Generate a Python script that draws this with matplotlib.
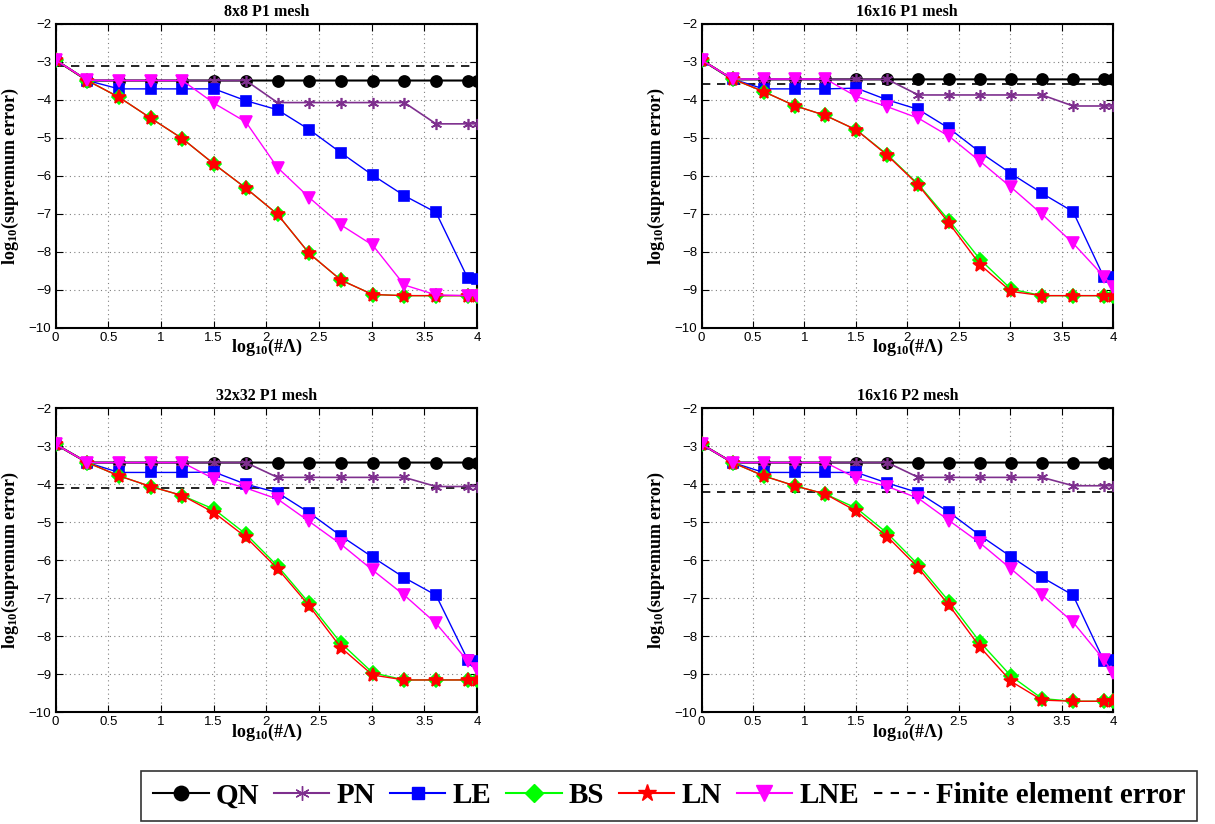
import matplotlib
matplotlib.use('Agg')
import matplotlib.pyplot as plt
from matplotlib.lines import Line2D

plt.rcParams['mathtext.fontset'] = 'custom'
plt.rcParams['mathtext.rm'] = 'Liberation Serif:bold'
plt.rcParams['mathtext.it'] = 'Liberation Serif:bold'
plt.rcParams['mathtext.bf'] = 'Liberation Serif:bold'

# log10(#Lambda)
x = [0, 0.301, 0.602, 0.903, 1.204, 1.505, 1.806, 2.107, 2.408, 2.709, 3.010, 3.311, 3.612, 3.913, 4.0]

titles = ['8x8 P1 mesh', '16x16 P1 mesh', '32x32 P1 mesh', '16x16 P2 mesh']

# 8x8 P1
qn_1 = [-2.95] + [-3.49] * 14
pn_1 = [-2.95, -3.49, -3.49, -3.49, -3.49, -3.49, -3.49, -4.07, -4.07, -4.07, -4.07, -4.07, -4.63, -4.63, -4.63]
le_1 = [-2.95, -3.49, -3.71, -3.71, -3.71, -3.71, -4.02, -4.26, -4.78, -5.39, -5.98, -6.52, -6.96, -8.69, -8.72]
bs_1 = [-2.95, -3.49, -3.93, -4.48, -5.02, -5.69, -6.32, -7.01, -8.04, -8.74, -9.12, -9.15, -9.15, -9.15, -9.15]
ln_1 = [-2.95, -3.49, -3.93, -4.48, -5.02, -5.69, -6.32, -7.01, -8.04, -8.74, -9.12, -9.15, -9.15, -9.15, -9.15]
lne_1 = [-2.95, -3.48, -3.49, -3.49, -3.49, -4.09, -4.58, -5.78, -6.57, -7.29, -7.82, -8.87, -9.13, -9.15, -9.15]
fe_1 = -3.10

# 16x16 P1
qn_2 = [-2.95] + [-3.46] * 14
pn_2 = [-2.95, -3.46, -3.46, -3.46, -3.46, -3.46, -3.46, -3.87, -3.87, -3.87, -3.87, -3.87, -4.16, -4.16, -4.16]
le_2 = [-2.95, -3.45, -3.71, -3.71, -3.71, -3.69, -4.00, -4.25, -4.75, -5.38, -5.94, -6.46, -6.94, -8.67, -8.67]
bs_2 = [-2.95, -3.45, -3.78, -4.15, -4.41, -4.79, -5.44, -6.22, -7.18, -8.20, -8.98, -9.15, -9.15, -9.15, -9.15]
ln_2 = [-2.95, -3.45, -3.78, -4.15, -4.41, -4.79, -5.46, -6.24, -7.25, -8.34, -9.04, -9.15, -9.15, -9.15, -9.15]
lne_2 = [-2.95, -3.45, -3.45, -3.45, -3.45, -3.91, -4.18, -4.48, -4.96, -5.62, -6.30, -7.01, -7.77, -8.65, -8.91]
fe_2 = -3.59

# 32x32 P1
qn_3 = [-2.95] + [-3.43] * 14
pn_3 = [-2.95, -3.43, -3.43, -3.43, -3.43, -3.43, -3.43, -3.82, -3.82, -3.82, -3.82, -3.82, -4.06, -4.06, -4.06]
le_3 = [-2.95, -3.43, -3.69, -3.69, -3.69, -3.68, -4.00, -4.22, -4.75, -5.36, -5.92, -6.46, -6.92, -8.62, -8.64]
bs_3 = [-2.95, -3.43, -3.78, -4.06, -4.30, -4.66, -5.31, -6.15, -7.13, -8.18, -8.96, -9.15, -9.15, -9.15, -9.15]
ln_3 = [-2.95, -3.43, -3.78, -4.06, -4.30, -4.75, -5.39, -6.22, -7.20, -8.30, -9.02, -9.15, -9.15, -9.15, -9.15]
lne_3 = [-2.95, -3.43, -3.43, -3.43, -3.43, -3.86, -4.10, -4.39, -4.98, -5.58, -6.26, -6.92, -7.66, -8.65, -8.87]
fe_3 = -4.10

# 16x16 P2
qn_4 = [-2.95] + [-3.43] * 14
pn_4 = [-2.95, -3.43, -3.43, -3.43, -3.43, -3.43, -3.43, -3.82, -3.82, -3.82, -3.82, -3.82, -4.04, -4.04, -4.04]
le_4 = [-2.95, -3.43, -3.69, -3.69, -3.69, -3.69, -3.97, -4.22, -4.74, -5.35, -5.91, -6.45, -6.92, -8.65, -8.63]
bs_4 = [-2.95, -3.43, -3.78, -4.04, -4.26, -4.63, -5.29, -6.12, -7.09, -8.16, -9.05, -9.64, -9.71, -9.71, -9.71]
ln_4 = [-2.95, -3.43, -3.78, -4.04, -4.26, -4.71, -5.38, -6.20, -7.19, -8.29, -9.19, -9.68, -9.71, -9.71, -9.71]
lne_4 = [-2.95, -3.43, -3.43, -3.43, -3.43, -3.84, -4.06, -4.37, -4.96, -5.55, -6.23, -6.92, -7.63, -8.62, -8.96]
fe_4 = -4.21

panels = [
    (qn_1, pn_1, le_1, bs_1, ln_1, lne_1, fe_1),
    (qn_2, pn_2, le_2, bs_2, ln_2, lne_2, fe_2),
    (qn_3, pn_3, le_3, bs_3, ln_3, lne_3, fe_3),
    (qn_4, pn_4, le_4, bs_4, ln_4, lne_4, fe_4),
]

purple = '#7E2F8E'
styles = [  # label, color, marker, markersize, linewidth
    ('QN', 'black', 'o', 8, 1.5),
    ('PN', purple, (6, 2, 0), 8, 1.2),
    ('LE', 'blue', 's', 7, 1.0),
    ('BS', '#00FF00', 'D', 7, 1.0),
    ('LN', 'red', '*', 10, 1.0),
    ('LNE', 'magenta', 'v', 9, 1.0),
]

# axes positions (left, bottom, width, height)
rects = [
    (0.0458, 0.602, 0.3467, 0.369),
    (0.5775, 0.602, 0.3385, 0.369),
    (0.0458, 0.1356, 0.3467, 0.369),
    (0.5775, 0.1356, 0.3385, 0.369),
]

fig = plt.figure(figsize=(12.15, 8.24), dpi=100)

for k in range(4):
    ax = fig.add_axes(rects[k])
    data = panels[k]
    for j, (lab, col, mk, ms, lw) in enumerate(styles):
        ax.plot(x, data[j], color=col, marker=mk, markersize=ms, linewidth=lw,
                markeredgecolor=col, markerfacecolor=col, markeredgewidth=1.2, zorder=3 + j)
    ax.axhline(data[6], color='black', linestyle=(0, (5, 4)), linewidth=1.2, zorder=2)
    ax.set_xlim(0, 4)
    ax.set_ylim(-10, -2)
    ax.set_xticks([0, 0.5, 1, 1.5, 2, 2.5, 3, 3.5, 4])
    ax.set_xticklabels(['0', '0.5', '1', '1.5', '2', '2.5', '3', '3.5', '4'])
    ax.set_yticks(range(-10, -1))
    ax.grid(True, color='#808080', linestyle=(0, (1, 3)), linewidth=0.8)
    ax.tick_params(direction='in', top=True, right=True, length=5, width=0.8,
                   labelsize=9.5, pad=3)
    for lbl in ax.get_xticklabels() + ax.get_yticklabels():
        lbl.set_fontfamily('Liberation Sans')
    for sp in ax.spines.values():
        sp.set_linewidth(1.5)
    ax.set_title(titles[k], fontfamily='Liberation Serif', fontweight='bold', fontsize=11.5, pad=6)
    ax.set_xlabel(r'log$_{10}$(#$\Lambda$)', fontfamily='Liberation Serif',
                  fontweight='bold', fontsize=13, labelpad=-5)
    ax.set_ylabel('log$_{10}$(supremum error)', fontfamily='Liberation Serif',
                  fontweight='bold', fontsize=13, labelpad=6)

handles = []
for lab, col, mk, ms, lw in styles:
    handles.append(Line2D([], [], color=col, marker=mk, markersize=ms * 1.3, linewidth=1.5,
                          markeredgecolor=col, markerfacecolor=col, label=lab))
handles.append(Line2D([], [], color='black', linestyle=(0, (4, 4)), linewidth=1.5,
                      label='Finite element error'))

leg = fig.legend(handles=handles, loc='center', bbox_to_anchor=(0.551, 0.034), ncol=7,
                 frameon=True, fancybox=False, edgecolor='black', handlelength=1.9,
                 handletextpad=0.25, columnspacing=0.5, borderpad=0.4,
                 prop={'family': 'Liberation Serif', 'weight': 'bold', 'size': 21})
leg.get_frame().set_linewidth(1.2)

plt.savefig('out.png', dpi=100)
